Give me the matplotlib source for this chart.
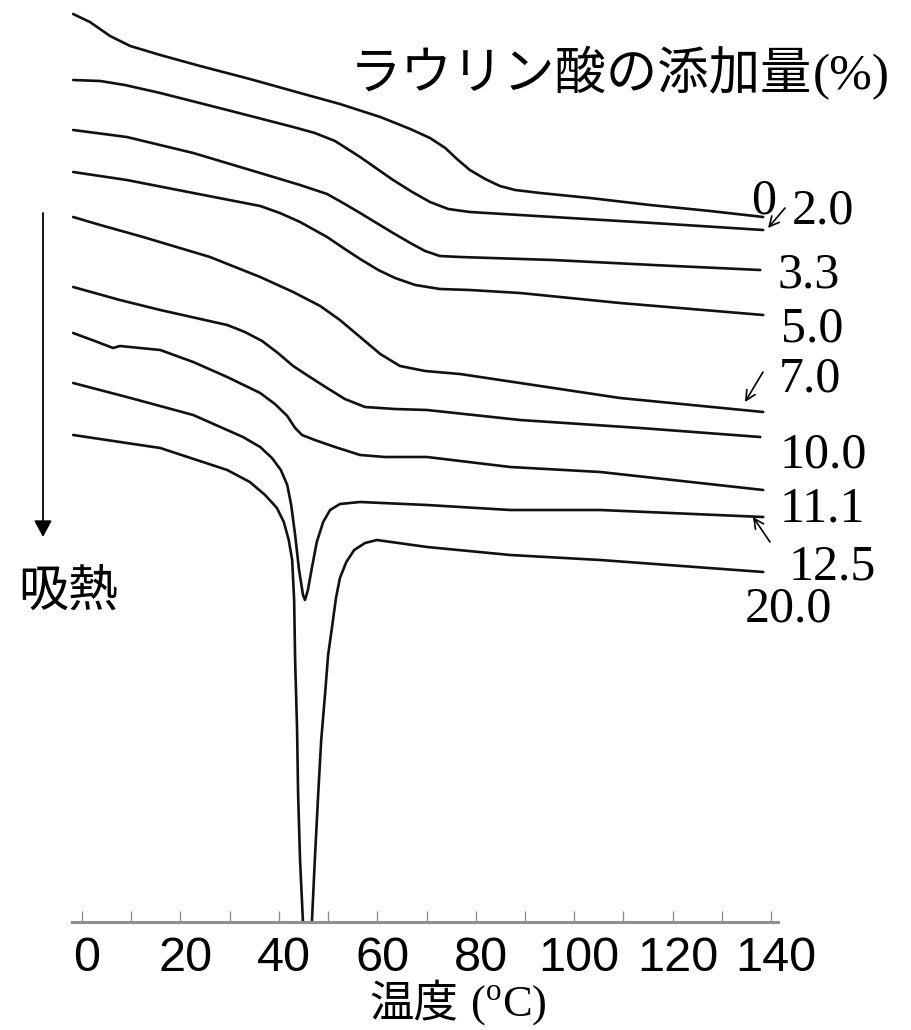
import matplotlib
matplotlib.use("Agg")
import matplotlib.pyplot as plt
from matplotlib.ticker import MultipleLocator
from matplotlib.transforms import ScaledTranslation

plt.rcParams["mathtext.fontset"] = "custom"
plt.rcParams["mathtext.rm"] = "Liberation Serif"

# DSC traces (temperature in deg C, heat flow in arbitrary units, offset per sample)
labels = ["0", "2.0", "3.3", "5.0", "7.0", "10.0", "11.1", "12.5", "20.0"]

t_00 = [-1.8, 1.6, 5.7, 9.8, 15.9, 24.0, 34.1, 44.3, 52.4, 60.6, 66.7, 70.7, 73.8, 76.4,
        78.8, 81.9, 84.9, 88.0, 93.1, 103.2, 115.4, 127.6, 138.4]
s_00 = [90.8, 90.0, 88.6, 87.6, 86.7, 85.6, 84.3, 82.9, 81.8, 80.5, 79.3, 78.4, 77.4, 76.2,
        75.2, 74.3, 73.6, 73.2, 72.9, 72.4, 71.7, 71.1, 70.5]

t_20 = [-1.8, 3.7, 8.7, 15.9, 29.5, 42.9, 47.3, 51.4, 56.5, 63.2, 67.1, 70.7, 74.4, 78.8,
        95.7, 116.0, 138.4]
s_20 = [84.2, 84.1, 83.7, 82.9, 81.2, 79.5, 78.9, 78.1, 76.5, 74.2, 73.0, 72.0, 71.3, 71.0,
        70.5, 69.9, 69.2]

t_33 = [-1.8, 9.1, 22.6, 36.2, 44.3, 49.8, 53.4, 56.5, 63.2, 66.7, 69.7, 72.7, 76.8,
        95.7, 116.0, 137.8]
s_33 = [79.2, 78.5, 76.9, 74.9, 73.7, 72.8, 71.8, 70.9, 68.9, 67.9, 67.1, 66.6, 66.5,
        66.2, 65.7, 65.2]

t_50 = [-1.8, 9.1, 22.6, 36.2, 40.2, 44.3, 49.8, 53.4, 56.5, 60.2, 63.6, 67.7, 72.7,
        78.8, 89.0, 109.3, 138.4]
s_50 = [75.0, 74.2, 72.9, 71.6, 70.9, 70.0, 68.5, 67.3, 66.3, 65.2, 64.4, 63.7, 63.3,
        63.2, 62.9, 61.9, 60.7]

t_70 = [-1.8, 3.7, 12.4, 26.0, 36.2, 42.9, 48.4, 52.4, 56.5, 60.6, 64.6, 69.7, 76.8,
        89.0, 109.3, 138.4]
s_70 = [70.5, 69.7, 68.5, 66.5, 64.5, 63.0, 61.6, 60.2, 58.5, 56.8, 55.6, 55.1, 54.8,
        53.9, 52.4, 51.0]

t_100 = [-1.8, 7.7, 15.9, 29.5, 33.1, 36.6, 39.8, 42.9, 46.3, 49.8, 53.4, 57.5, 63.6,
         70.1, 89.0, 113.4, 137.8]
s_100 = [63.5, 62.2, 61.2, 59.7, 59.0, 58.1, 56.9, 55.6, 54.5, 53.4, 52.3, 51.5, 51.3,
         51.2, 50.2, 49.4, 48.5]

t_111 = [-1.8, 2.6, 6.3, 7.7, 15.9, 22.6, 29.5, 36.2, 39.2, 41.7, 43.3, 44.7, 47.3, 51.4,
         56.5, 61.6, 70.1, 87.0, 105.3, 138.4]
s_111 = [58.9, 58.1, 57.4, 57.6, 57.2, 56.0, 54.5, 52.9, 51.8, 50.6, 49.4, 48.7, 48.2, 47.5,
         46.7, 46.5, 46.5, 45.5, 45.0, 43.2]

t_125 = [-1.8, 9.1, 22.6, 32.7, 36.2, 38.6, 40.4, 41.7, 42.5, 43.3, 44.1, 44.9, 45.3, 45.9,
         46.7, 47.7, 49.0, 50.4, 52.4, 56.5, 70.1, 87.0, 105.3, 138.4]
s_125 = [53.9, 52.5, 50.7, 48.5, 47.5, 46.4, 45.2, 43.7, 41.7, 38.7, 35.2, 32.7, 32.2, 33.2,
         35.4, 38.0, 40.0, 41.2, 41.8, 42.0, 41.7, 41.2, 41.2, 40.5]

t_200 = [-1.8, 15.9, 29.5, 34.1, 37.2, 39.6, 41.0, 42.0, 42.7, 43.1, 43.3, 43.7, 43.9, 44.3,
         44.9, 45.7, 46.7, 47.3, 48.0, 48.6, 49.4, 50.0, 50.8, 51.6, 52.4, 53.7, 55.3, 57.5,
         59.9, 70.1, 87.0, 105.3, 138.4]
s_200 = [48.7, 47.4, 45.2, 44.0, 42.7, 41.4, 40.0, 38.2, 36.2, 32.2, 26.2, 19.2, 12.9, 6.2,
         -0.1, -1.8, -0.1, 6.2, 12.9, 18.2, 22.9, 26.7, 29.5, 32.4, 34.4, 36.0, 37.2, 37.9,
         38.2, 37.5, 36.7, 36.2, 35.0]

temps = [t_00, t_20, t_33, t_50, t_70, t_100, t_111, t_125, t_200]
signals = [s_00, s_20, s_33, s_50, s_70, s_100, s_111, s_125, s_200]

tick_values = [0, 20, 40, 60, 80, 100, 120, 140]

W, H = 911, 1030
fig = plt.figure(figsize=(W / 100, H / 100), dpi=100)
fig.patch.set_facecolor("white")


def fx(px):
    return px / W


def fy(py):
    return 1 - py / H


ax = fig.add_axes([fx(72), fy(922), fx(778) - fx(72), fy(0) - fy(922)])
ax.set_xlim(-2.03, 141.4)
ax.set_ylim(0, 92.2)

for t, s in zip(temps, signals):
    ax.plot(t, s, color="#111111", lw=1.9, solid_joinstyle="round", solid_capstyle="round")

for side in ("left", "right", "top"):
    ax.spines[side].set_visible(False)
ax.spines["bottom"].set_color("#8f8f8f")
ax.spines["bottom"].set_linewidth(2.2)
ax.set_yticks([])
ax.set_xticks(tick_values)
ax.xaxis.set_minor_locator(MultipleLocator(10))
ax.tick_params(axis="x", which="both", direction="in", length=8, width=0.9,
               color="#8a8a8a", pad=10)
ax.set_xticklabels([str(v) for v in tick_values],
                   family=["Liberation Sans", "DejaVu Sans"],
                   fontsize=35, color="black")
shift = ScaledTranslation(0.05, 0, fig.dpi_scale_trans)
for lab in ax.get_xticklabels():
    lab.set_transform(lab.get_transform() + shift)

cjk = ["Noto Sans CJK JP", "DejaVu Sans"]
serif = ["Liberation Serif", "DejaVu Serif"]

# title: additive amount of lauric acid
t1 = fig.text(fx(350), fy(89), "ラウリン酸の添加量", family=cjk, fontsize=37,
              ha="left", va="baseline")
fig.canvas.draw()
bb = t1.get_window_extent()
fig.text(bb.x1 / W, fy(89), "(%)", family=serif, fontsize=37, ha="left", va="baseline")

# x-axis title
ta = fig.text(0, fy(1017), "温度", family=cjk, fontsize=32, ha="left", va="baseline")
tb = fig.text(0, fy(1017), r" ($^{\mathrm{o}}$C)", family=serif, fontsize=32,
              ha="left", va="baseline")
fig.canvas.draw()
wa = ta.get_window_extent().width
wb = tb.get_window_extent().width
x0 = 458 - (wa + wb) / 2
ta.set_x(x0 / W)
tb.set_x((x0 + wa) / W)

# endothermic direction arrow
ax.annotate("", xy=(43, H - 537), xytext=(43, H - 213), xycoords="figure pixels",
            textcoords="figure pixels",
            arrowprops=dict(arrowstyle="-|>,head_length=0.5,head_width=0.27",
                            mutation_scale=20, lw=1.3, color="black",
                            shrinkA=0, shrinkB=0))
fig.text(fx(68), fy(606), "吸熱", family=cjk, fontsize=36, ha="center", va="baseline")

# sample labels
label_pos = [(764, 213), (823, 223), (809, 288), (812, 342), (810, 392),
             (823, 468), (822, 522), (832, 580), (788, 622)]
for lab, (px, py) in zip(labels, label_pos):
    fig.text(fx(px), fy(py), lab, family=serif, fontsize=36, ha="center", va="baseline")

# pointers from labels to their traces
pointers = [((785, 208), (768, 228)), ((763, 372), (745, 402)), ((770, 542), (753, 517))]
for (x1, y1), (x2, y2) in pointers:
    ax.annotate("", xy=(x2, H - y2), xytext=(x1, H - y1), xycoords="figure pixels",
                textcoords="figure pixels",
                arrowprops=dict(arrowstyle="->,head_length=0.5,head_width=0.25",
                                mutation_scale=14, lw=1.2, color="black",
                                shrinkA=0, shrinkB=0))

fig.savefig("out.png", dpi=100, facecolor="white")
